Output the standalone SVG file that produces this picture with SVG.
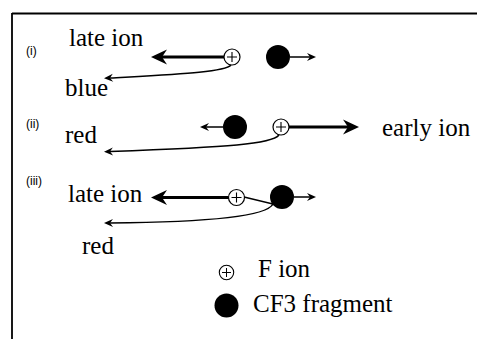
<svg xmlns="http://www.w3.org/2000/svg" width="477" height="339" viewBox="0 0 477 339">
<style>
.lbl{font-family:"Liberation Serif","Times New Roman",serif;font-size:25px;fill:#000}
.tag{font-family:"Liberation Sans",Arial,sans-serif;font-size:12px;fill:#000}
.fion{fill:#fff;stroke:#000;stroke-width:1.2}
.plus{stroke:#000;stroke-width:1.1;fill:none}
.cf3{fill:#000}
.thick{stroke:#000;stroke-width:3;fill:none}
.thin{stroke:#000;stroke-width:1.5;fill:none}
</style>
<defs>
<marker id="big" viewBox="-17 -9 18 18" refX="-11" refY="0" markerWidth="18" markerHeight="18" markerUnits="userSpaceOnUse" orient="auto">
<path d="M0,0 L-16,-7.5 L-11,0 L-16,7.5 Z" fill="#000"/>
</marker>
<marker id="small" viewBox="-10 -5 11 10" refX="-6" refY="0" markerWidth="11" markerHeight="10" markerUnits="userSpaceOnUse" orient="auto">
<path d="M0,0 L-9,-4 L-6,0 L-9,4 Z" fill="#000"/>
</marker>
<g id="fsym">
<circle r="8" class="fion"/>
<path d="M-5,0 H5 M0,-5 V5" class="plus"/>
</g>
</defs>
<rect width="477" height="339" fill="#fff"/>
<path d="M12,13.5 H477 M12,13 V339" stroke="#000" stroke-width="1.8" fill="none"/>
<g id="connectors">
<path d="M224,57 H162" class="thick" marker-end="url(#big)"/>
<path d="M290,57 H310" class="thin" marker-end="url(#small)"/>
<path d="M231,65 C225,72 180,74 110,78" class="thin" marker-end="url(#small)"/>
<path d="M223,127 H206" class="thin" marker-end="url(#small)"/>
<path d="M289,127 H348" class="thick" marker-end="url(#big)"/>
<path d="M279,135 C272,144 230,147 110,151.5" class="thin" marker-end="url(#small)"/>
<path d="M228.5,197.5 H162" class="thick" marker-end="url(#big)"/>
<path d="M294,197 H310" class="thin" marker-end="url(#small)"/>
<path d="M244,197 L273,204 C268,214 230,222 110,223" class="thin" marker-end="url(#small)"/>
</g>
<g id="f-ion-i"><use href="#fsym" x="232" y="57"/></g>
<g id="cf3-i"><circle cx="278" cy="57" r="12" class="cf3"/></g>
<g id="cf3-ii"><circle cx="235" cy="127" r="12" class="cf3"/></g>
<g id="f-ion-ii"><use href="#fsym" x="281" y="127"/></g>
<g id="f-ion-iii"><use href="#fsym" x="236.5" y="197.5"/></g>
<g id="cf3-iii"><circle cx="282" cy="197" r="12" class="cf3"/></g>
<g id="labels">
<text x="26" y="55" class="tag">(i)</text>
<text x="26" y="128" class="tag">(ii)</text>
<text x="26" y="185" class="tag">(iii)</text>
<text x="69" y="46" class="lbl">late ion</text>
<text x="65" y="96" class="lbl">blue</text>
<text x="65" y="143" class="lbl">red</text>
<text x="382" y="136" class="lbl">early ion</text>
<text x="68" y="201.5" class="lbl">late ion</text>
<text x="82" y="254" class="lbl">red</text>
</g>
<g id="legend">
<g id="legend-f-ion"><use href="#fsym" transform="translate(226.5,272.5) scale(0.9)"/><text x="258" y="277" class="lbl">F ion</text></g>
<g id="legend-cf3"><circle cx="226.5" cy="305.5" r="12" class="cf3"/><text x="253" y="312" class="lbl">CF3 fragment</text></g>
</g>
</svg>
